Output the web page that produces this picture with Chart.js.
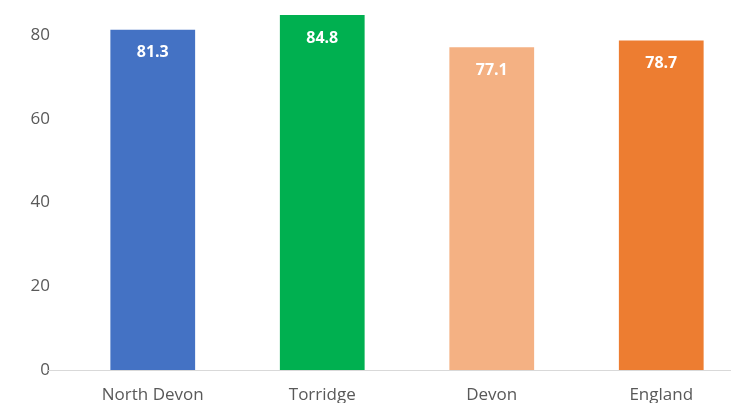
<!DOCTYPE html>
<html>
<head>
<meta charset="utf-8">
<script src="https://cdn.jsdelivr.net/npm/chart.js@4"></script>
<style>
  html, body { margin: 0; padding: 0; background: #fff; overflow: hidden; }
  #wrap { width: 760px; height: 430px; margin-top: -27px; }
</style>
</head>
<body>
<div id="wrap"><canvas id="canvas_chart01"></canvas></div>
<script>
const areas = ['North Devon', 'Torridge', 'Devon', 'England'];
const values = [81.3, 84.8, 77.1, 78.7];
const barColors = ['#4472C4', '#00B050', '#F4B183', '#ED7D31'];
const yTicks = [0, 20, 40, 60, 80];

const ctx01 = document.getElementById('canvas_chart01');

// baseline runs a bit left of the plot area, like the original
const baseline = {
    id: 'baseline',
    beforeDatasetsDraw(chart) {
        const c = chart.ctx;
        const y = Math.round(chart.scales.y.getPixelForValue(0)) + 0.5;
        c.save();
        c.strokeStyle = '#d9d9d9';
        c.lineWidth = 1;
        c.beginPath();
        c.moveTo(48, y);
        c.lineTo(chart.width, y);
        c.stroke();
        c.restore();
    }
};

const valueLabels = {
    id: 'valueLabels',
    afterDatasetsDraw(chart) {
        const c = chart.ctx;
        const meta = chart.getDatasetMeta(0);
        c.save();
        c.fillStyle = '#ffffff';
        c.font = 'bold 16px "Open Sans"';
        c.textAlign = 'center';
        c.textBaseline = 'middle';
        meta.data.forEach((bar, i) => {
            c.fillText(values[i].toFixed(1), bar.x, bar.y + 23);
        });
        c.restore();
    }
};

new Chart(ctx01, {
    type: 'bar',
    data: {
        labels: areas,
        datasets: [{
            data: values,
            backgroundColor: barColors,
            borderWidth: 0,
            barPercentage: 0.5,
            categoryPercentage: 1.0
        }]
    },
    options: {
        responsive: true,
        maintainAspectRatio: false,
        animation: false,
        layout: { padding: { left: 0, right: 14, top: 0, bottom: 0 } },
        plugins: {
            legend: { display: false },
            tooltip: { enabled: false }
        },
        scales: {
            x: {
                grid: { display: false, drawTicks: false },
                border: { display: false },
                ticks: {
                    color: '#595959',
                    font: { family: 'Open Sans', size: 17 },
                    padding: 15
                },
                afterFit: (scale) => { scale.height = 33; }
            },
            y: {
                min: 0,
                max: 88.1,
                grid: { display: false, drawTicks: false },
                border: { display: false },
                ticks: {
                    stepSize: 20,
                    color: '#595959',
                    font: { family: 'Open Sans', size: 17 },
                    padding: 18
                },
                afterBuildTicks: (scale) => {
                    scale.ticks = yTicks.map(v => ({ value: v }));
                },
                afterFit: (scale) => { scale.width = 68; }
            }
        }
    },
    plugins: [baseline, valueLabels]
});
</script>
</body>
</html>
